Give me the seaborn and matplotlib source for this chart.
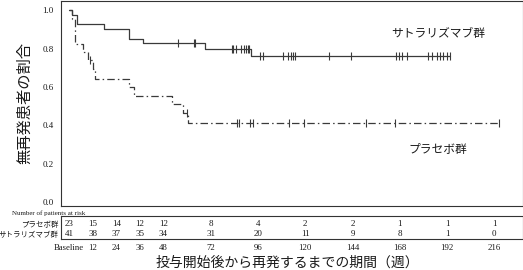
import numpy as np
import pandas as pd
import matplotlib
matplotlib.use("Agg")
import matplotlib.pyplot as plt
import seaborn as sns

sns.set_theme(style="white")
plt.rcParams['font.family'] = ['Liberation Serif', 'Noto Sans CJK JP', 'DejaVu Sans']

# ---- data (weeks, survival) ----
sat_step_weeks = [0, 1.7, 4.3, 17.8, 30.7, 37.5, 69.2, 92.6, 193.4]
sat_step_vals = [1.0, 0.976, 0.927, 0.901, 0.852, 0.829, 0.800, 0.763, 0.763]
sat_censor_weeks = [55.4, 63.7, 64.2, 82.6, 83.5, 84.7, 87.4, 89.0, 89.9, 90.8, 91.6,
                    97.0, 98.6, 108.5, 111.4, 112.7, 113.6, 114.8, 132.2, 143.2,
                    166.0, 167.7, 169.1, 171.5, 182.4, 184.1, 186.7, 188.4, 190.1,
                    191.8, 193.4]

pla_step_weeks = [0, 1.5, 3.1, 7.3, 9.5, 12.0, 13.2, 30.7, 33.2, 52.5, 58.0, 60.4, 218.5]
pla_step_vals = [1.0, 0.957, 0.826, 0.783, 0.739, 0.693, 0.643, 0.598, 0.553, 0.509,
                 0.465, 0.410, 0.410]
pla_censor_weeks = [10.7, 60.0, 85.5, 86.5, 91.9, 93.3, 111.9, 119.3, 150.7, 165.5, 218.5]

risk_weeks = [0, 12, 24, 36, 48, 72, 96, 120, 144, 168, 192, 216]
risk_tick_labels = ["Baseline", "12", "24", "36", "48", "72", "96", "120", "144",
                    "168", "192", "216"]
risk_placebo = [23, 15, 14, 12, 12, 8, 4, 2, 2, 1, 1, 1]
risk_satra = [41, 38, 37, 35, 34, 31, 20, 11, 9, 8, 1, 0]

group_names = ["プラセボ群", "サトラリズマブ群"]
ylabel = "無再発患者の割合"
xlabel = "投与開始後から再発するまでの期間（週）"

line_color = "#3a3a3a"
text_color = "#1a1a1a"

def km_at(weeks, vals, t):
    idx = np.searchsorted(np.array(weeks), t, side="right") - 1
    return vals[max(idx, 0)]

fig = plt.figure(figsize=(5.23, 2.70), dpi=100)
ax = fig.add_axes([0.116, 0.237, 0.8834, 0.761])
ax2 = fig.add_axes([0.116, 0.115, 0.8834, 0.085])

df_sat = pd.DataFrame({"week": sat_step_weeks, "surv": sat_step_vals})
df_pla = pd.DataFrame({"week": pla_step_weeks, "surv": pla_step_vals})

sns.lineplot(data=df_sat, x="week", y="surv", ax=ax, drawstyle="steps-post",
             color=line_color, linewidth=0.9, estimator=None, sort=False)
sns.lineplot(data=df_pla, x="week", y="surv", ax=ax, drawstyle="steps-post",
             color=line_color, linewidth=0.9, estimator=None, sort=False,
             linestyle=(0, (6, 2.5, 1.2, 2.5)))

cs = pd.DataFrame({"week": sat_censor_weeks,
                   "surv": [km_at(sat_step_weeks, sat_step_vals, t) for t in sat_censor_weeks]})
cp = pd.DataFrame({"week": pla_censor_weeks,
                   "surv": [km_at(pla_step_weeks, pla_step_vals, t - 1e-6) for t in pla_censor_weeks]})
for d in (cs, cp):
    sns.scatterplot(data=d, x="week", y="surv", ax=ax, marker="|", s=36,
                    color=line_color, linewidth=0.8, legend=False)

ax.set_xlim(-4.2, 230.4)
ax.set_ylim(-0.022, 1.052)
ax.set_yticks([0.0, 0.2, 0.4, 0.6, 0.8, 1.0])
ax.set_yticklabels(["0.0", "0.2", "0.4", "0.6", "0.8", "1.0"], fontsize=6.5,
                   family="Liberation Serif", color=text_color)
ax.set_xticks([])
ax.set_xlabel("")
ax.set_ylabel(ylabel, fontsize=11, family=["Noto Sans CJK JP"], labelpad=7,
              color=text_color)
ax.tick_params(axis="y", direction="out", length=3, width=0.7, color="#333333", pad=2)
for s in ax.spines.values():
    s.set_color("#333333")
    s.set_linewidth(0.8)

ax.text(187.4, 0.882, group_names[1], fontsize=8.5, family=["Noto Sans CJK JP"],
        ha="center", va="center", color=text_color)
ax.text(187.4, 0.275, group_names[0], fontsize=8.5, family=["Noto Sans CJK JP"],
        ha="center", va="center", color=text_color)

# risk table
ax2.set_xlim(-4.2, 230.4)
ax2.set_ylim(0, 1)
rows_y = [0.66, 0.22]
for yv, counts in zip(rows_y, [risk_placebo, risk_satra]):
    for w, c in zip(risk_weeks, counts):
        ax2.text(w, yv, str(c), fontsize=6.5, ha="center", va="center",
                 family="Liberation Serif", color=text_color)
ax2.set_yticks(rows_y)
ax2.set_yticklabels(group_names, fontsize=5.4, family=["Noto Sans CJK JP"],
                    color=text_color)
ax2.set_xticks(risk_weeks)
ax2.set_xticklabels(risk_tick_labels, fontsize=6.3, family="Liberation Serif",
                    color=text_color)
ax2.tick_params(axis="x", direction="out", length=2.5, width=0.7, pad=1.2, color="#333333")
ax2.tick_params(axis="y", length=0, pad=1.5)
for s in ax2.spines.values():
    s.set_color("#333333")
    s.set_linewidth(0.8)

fig.text(0.549, 0.027, xlabel, fontsize=10, family=["Noto Sans CJK JP"],
         ha="center", va="center", color=text_color)
fig.text(0.023, 0.211, "Number of patients at risk", fontsize=5,
         family="Liberation Serif", ha="left", va="center", color=text_color)

fig.savefig("out.png", dpi=100)
